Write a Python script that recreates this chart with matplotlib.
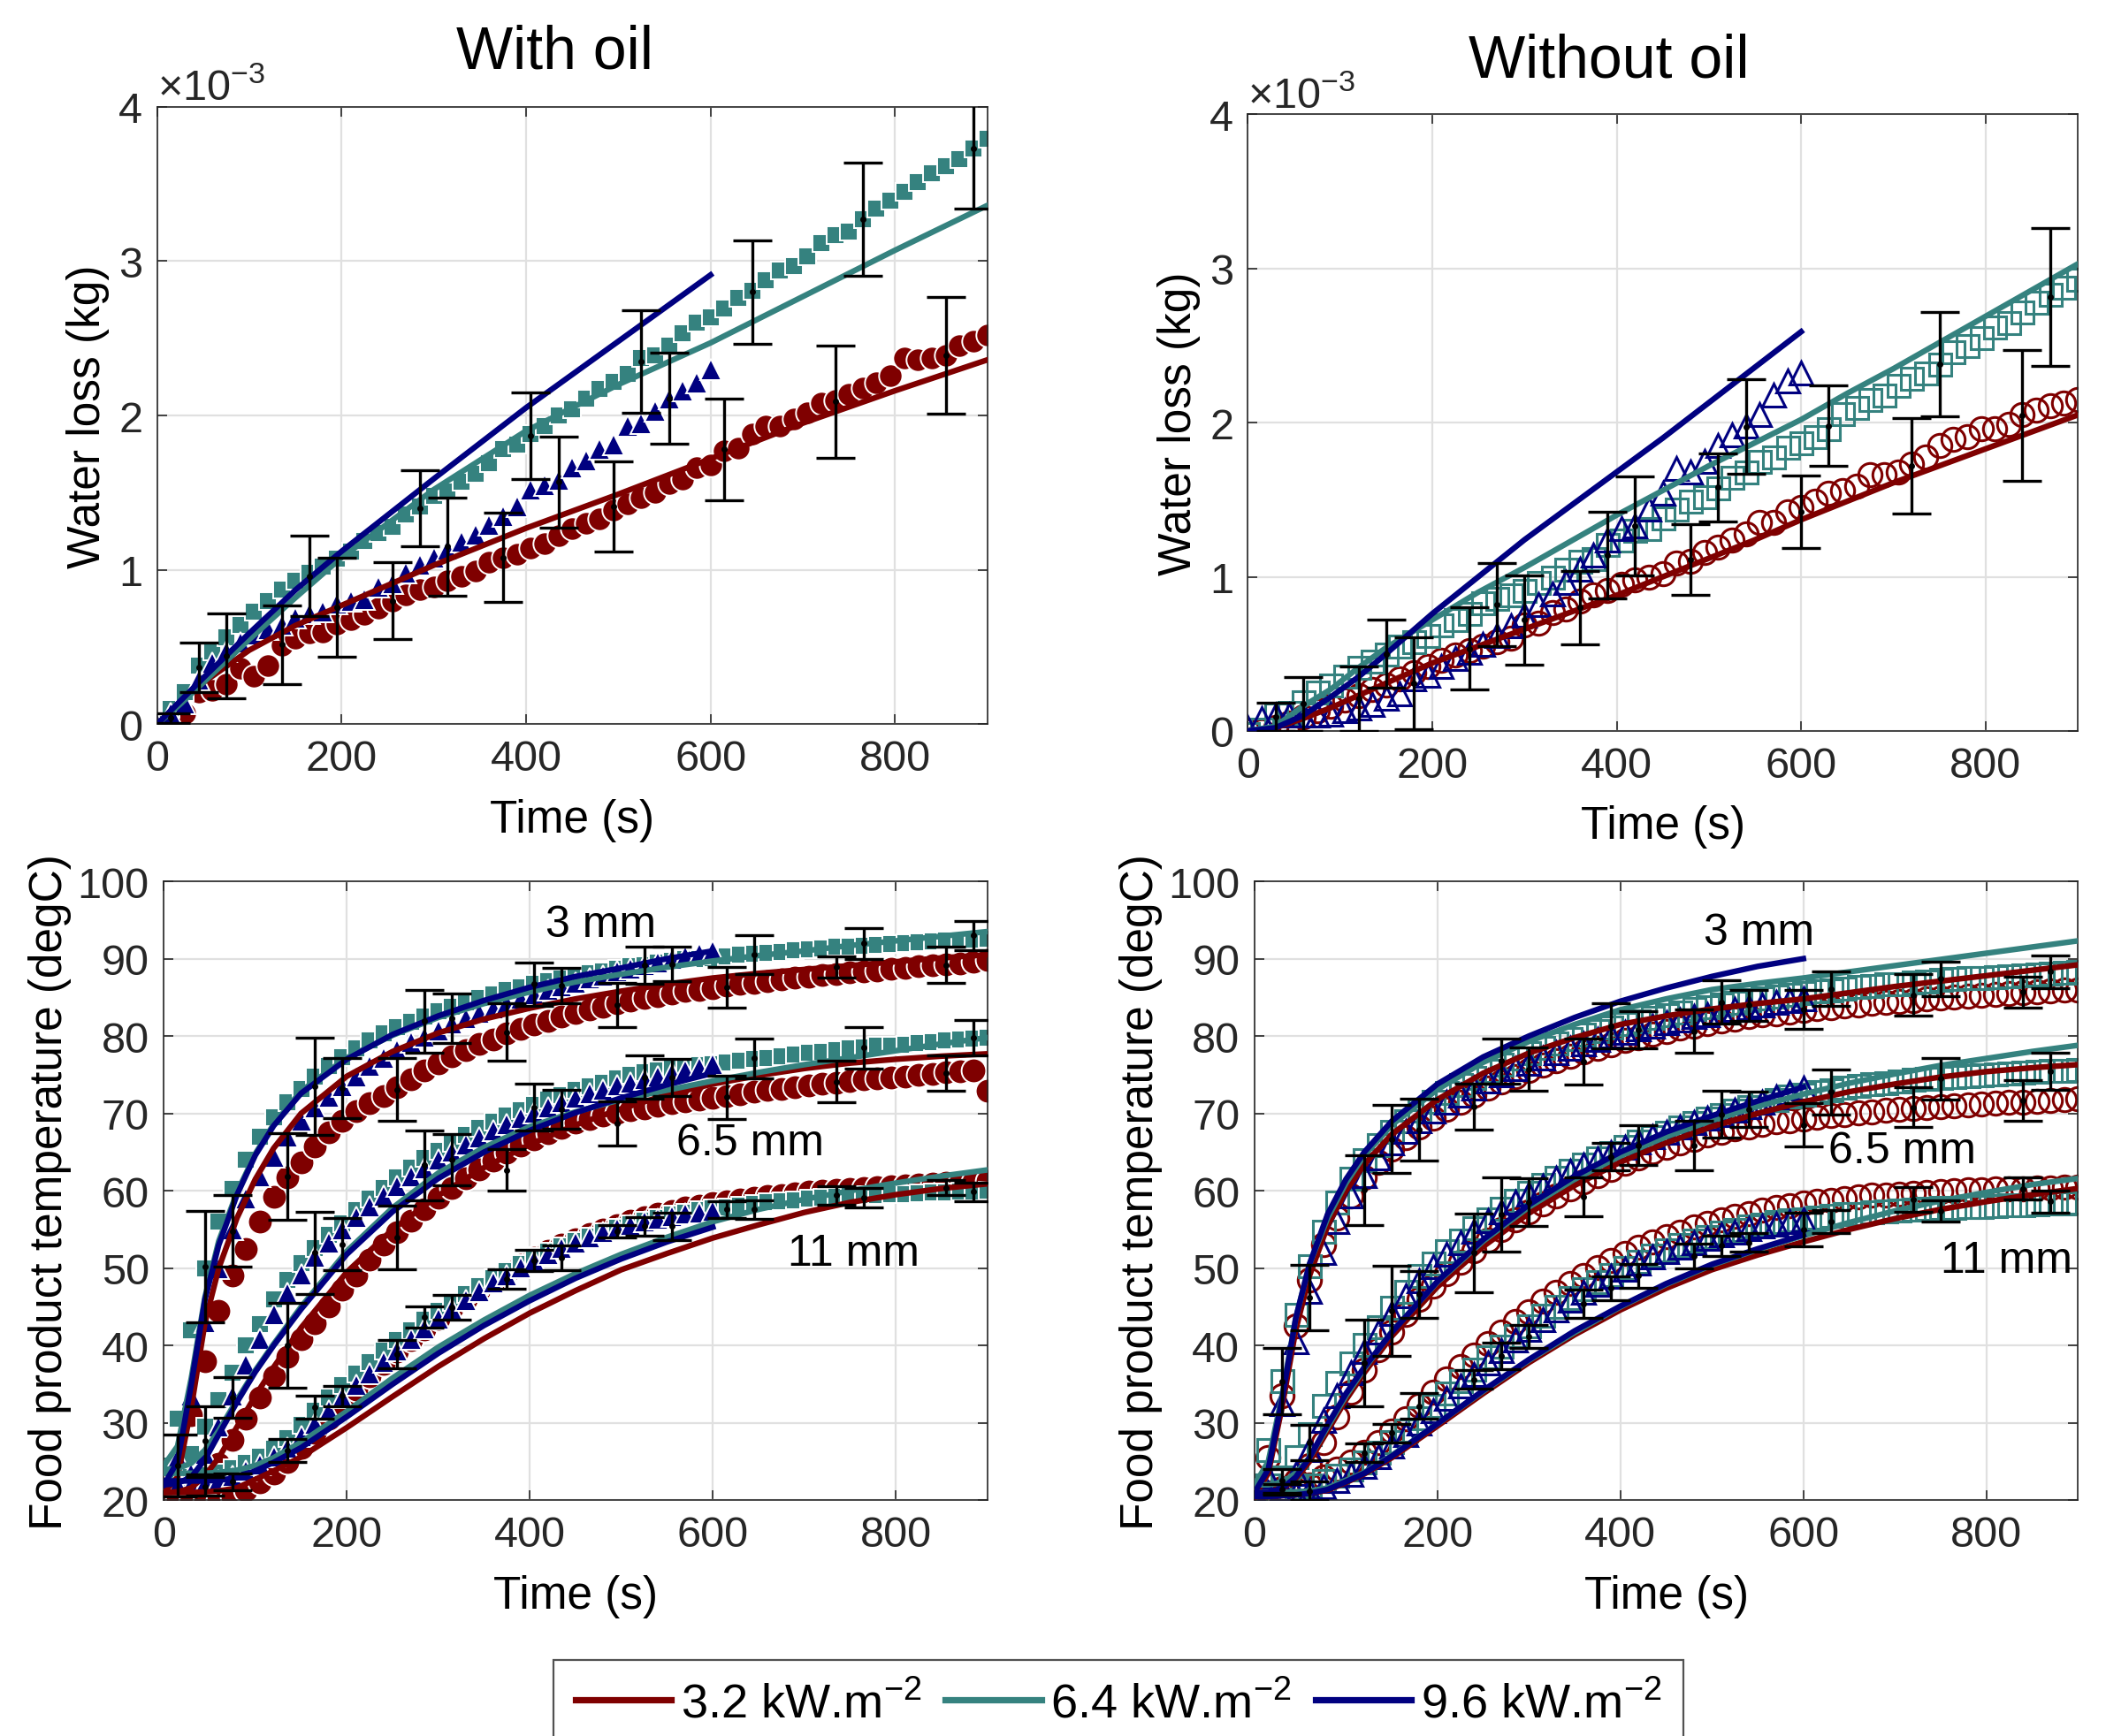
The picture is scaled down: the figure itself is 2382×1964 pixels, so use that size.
import matplotlib
matplotlib.use("Agg")
import matplotlib.pyplot as plt
import numpy as np
from matplotlib.lines import Line2D

plt.rcParams['font.family'] = ['Liberation Sans', 'DejaVu Sans']
plt.rcParams['mathtext.fontset'] = 'custom'
plt.rcParams['mathtext.rm'] = 'Liberation Sans'
plt.rcParams['mathtext.it'] = 'Liberation Sans'

RED = '#7f0000'
TEAL = '#35827f'
BLUE = '#000080'

flux_labels = ['3.2 kW.m$^{-2}$', '6.4 kW.m$^{-2}$', '9.6 kW.m$^{-2}$']
dt = 15  # sampling step of the measured points (s)

# ---------------- water loss, with oil (units of 1e-3 kg) ----------------
wo_red = [0.0, 0.03, 0.07, 0.21, 0.22, 0.26, 0.36, 0.31, 0.38, 0.51,
          0.56, 0.59, 0.60, 0.65, 0.68, 0.71, 0.75, 0.80, 0.84, 0.875,
          0.89, 0.93, 0.96, 0.99, 1.05, 1.08, 1.10, 1.14, 1.17, 1.22,
          1.27, 1.30, 1.33, 1.39, 1.43, 1.47, 1.50, 1.56, 1.59, 1.66,
          1.68, 1.77, 1.79, 1.88, 1.93, 1.93, 1.98, 2.02, 2.08, 2.10,
          2.14, 2.18, 2.21, 2.26, 2.375, 2.36, 2.37, 2.39, 2.45, 2.48, 2.52]
wo_teal = [0.0, 0.10, 0.21, 0.38, 0.47, 0.565, 0.645, 0.73, 0.80, 0.87,
           0.93, 0.98, 1.02, 1.07, 1.12, 1.19, 1.24, 1.28, 1.36, 1.41,
           1.48, 1.51, 1.57, 1.62, 1.69, 1.78, 1.81, 1.88, 1.93, 2.00,
           2.04, 2.11, 2.17, 2.22, 2.27, 2.37, 2.39, 2.45, 2.53, 2.60,
           2.635, 2.69, 2.76, 2.81, 2.875, 2.94, 2.97, 3.03, 3.115, 3.17,
           3.19, 3.27, 3.34, 3.39, 3.45, 3.51, 3.57, 3.615, 3.66, 3.73, 3.79]
wo_blue = [0.0, 0.07, 0.135, 0.29, 0.40, 0.47, 0.53, 0.58, 0.615, 0.645,
           0.69, 0.72, 0.73, 0.78, 0.80, 0.81, 0.89, 0.91, 0.98, 1.03,
           1.08, 1.13, 1.18, 1.23, 1.29, 1.35, 1.41, 1.52, 1.55, 1.585,
           1.665, 1.71, 1.78, 1.81, 1.93, 1.95, 2.03, 2.11, 2.16, 2.21, 2.30]
wo_line_t = [0, 25, 50, 100, 150, 200, 300, 400, 500, 600, 700, 800, 900]
wo_line_red = [0, 0.14, 0.27, 0.48, 0.64, 0.77, 1.03, 1.27, 1.49, 1.72, 1.95, 2.16, 2.36]
wo_line_teal = [0, 0.13, 0.27, 0.55, 0.82, 1.08, 1.52, 1.90, 2.20, 2.47, 2.77, 3.07, 3.36]
wo_line_blue = [0, 0.15, 0.30, 0.59, 0.87, 1.12, 1.59, 2.05, 2.48, 2.91]
wo_bar_t = [15, 45, 75, 135, 165, 195, 255, 285, 315, 375, 405, 435, 495, 525, 555,
            615, 645, 735, 765, 855, 885]
wo_bar_mean = [0.04, 0.37, 0.445, 0.515, 0.96, 0.76, 0.80, 1.40, 1.15, 1.08, 1.87, 1.57,
               1.41, 2.35, 2.11, 1.78, 2.80, 2.09, 3.27, 2.39, 3.73]
wo_bar_err = [0.03, 0.16, 0.275, 0.255, 0.26, 0.32, 0.25, 0.245, 0.315, 0.29, 0.28, 0.295,
              0.29, 0.33, 0.295, 0.33, 0.335, 0.365, 0.365, 0.38, 0.39]

# ---------------- water loss, without oil (units of 1e-3 kg) ----------------
no_red = [0.0, 0.0, 0.02, 0.05, 0.09, 0.13, 0.16, 0.20, 0.23, 0.27,
          0.30, 0.34, 0.38, 0.42, 0.46, 0.49, 0.52, 0.55, 0.58, 0.60,
          0.69, 0.70, 0.77, 0.79, 0.84, 0.88, 0.91, 0.95, 0.98, 1.00,
          1.02, 1.09, 1.10, 1.16, 1.19, 1.24, 1.28, 1.35, 1.35, 1.42,
          1.45, 1.49, 1.54, 1.56, 1.59, 1.66, 1.66, 1.68, 1.73, 1.78,
          1.85, 1.89, 1.91, 1.96, 1.96, 1.99, 2.05, 2.08, 2.11, 2.13, 2.15]
no_teal = [-0.02, 0.01, 0.11, 0.12, 0.19, 0.25, 0.30, 0.355, 0.41, 0.45,
           0.50, 0.55, 0.58, 0.62, 0.69, 0.72, 0.76, 0.83, 0.86, 0.88,
           0.91, 0.965, 1.00, 1.05, 1.10, 1.12, 1.21, 1.24, 1.30, 1.31,
           1.38, 1.44, 1.49, 1.52, 1.575, 1.645, 1.68, 1.75, 1.78, 1.84,
           1.87, 1.91, 1.96, 2.06, 2.10, 2.15, 2.18, 2.24, 2.29, 2.32,
           2.38, 2.46, 2.50, 2.55, 2.62, 2.65, 2.72, 2.78, 2.83, 2.88, 2.93]
no_blue = [0.02, 0.08, 0.105, 0.105, 0.10, 0.10, 0.11, 0.13, 0.15, 0.17,
           0.21, 0.24, 0.335, 0.36, 0.42, 0.47, 0.51, 0.56, 0.62, 0.68,
           0.75, 0.82, 0.89, 0.96, 1.05, 1.14, 1.24, 1.31, 1.33, 1.44,
           1.54, 1.70, 1.68, 1.75, 1.85, 1.92, 1.98, 2.05, 2.18, 2.27, 2.32]
no_line_t = [0, 30, 60, 90, 120, 150, 200, 250, 300, 350, 400, 450, 500, 550, 600,
             650, 700, 750, 800, 850, 900]
no_line_red = [0, 0.02, 0.08, 0.15, 0.23, 0.31, 0.44, 0.55, 0.66, 0.77, 0.88, 1.00,
               1.12, 1.24, 1.37, 1.49, 1.61, 1.72, 1.83, 1.94, 2.05]
no_line_teal = [0, 0.03, 0.16, 0.27, 0.41, 0.54, 0.72, 0.90, 1.06, 1.23, 1.40, 1.56,
                1.72, 1.87, 2.02, 2.19, 2.35, 2.52, 2.69, 2.86, 3.03]
no_line_blue = [0, 0.02, 0.10, 0.22, 0.35, 0.50, 0.76, 1.00, 1.24, 1.46, 1.68, 1.90,
                2.13, 2.36, 2.59]
no_bar_t = [30, 60, 120, 150, 180, 240, 270, 300, 360, 390, 420, 480, 510, 540, 600,
            630, 720, 750, 840, 870]
no_bar_mean = [0.09, 0.175, 0.21, 0.50, 0.31, 0.535, 0.82, 0.72, 0.80, 1.14, 1.33, 1.11,
               1.58, 1.975, 1.42, 1.98, 1.72, 2.38, 2.045, 2.815]
no_bar_err = [0.09, 0.175, 0.21, 0.22, 0.30, 0.265, 0.27, 0.29, 0.24, 0.28, 0.32, 0.23,
              0.22, 0.305, 0.235, 0.26, 0.31, 0.34, 0.425, 0.445]

# ---------------- temperature, with oil (degC) ----------------
to_red_3 = [20.8, 23.5, 31.0, 38.0, 44.5, 49.0, 52.5, 56.0, 59.2, 61.7,
            63.7, 65.7, 67.6, 69.1, 70.3, 71.3, 72.3, 73.4, 74.4, 75.5,
            76.5, 77.4, 78.2, 79.0, 79.6, 80.3, 80.9, 81.5, 82.0, 82.5,
            83.0, 83.4, 83.8, 84.2, 84.6, 84.9, 85.2, 85.5, 85.8, 86.0,
            86.2, 86.5, 86.7, 86.9, 87.1, 87.3, 87.5, 87.7, 87.9, 88.0,
            88.2, 88.4, 88.5, 88.7, 88.8, 89.0, 89.1, 89.3, 89.4, 89.6, 89.8]
to_teal_3 = [24.5, 30.5, 42.0, 50.0, 56.0, 60.3, 64.0, 67.0, 69.5, 71.5,
             73.2, 74.8, 76.1, 77.3, 78.4, 79.4, 80.3, 81.1, 81.8, 82.5,
             83.2, 83.8, 84.4, 84.9, 85.4, 85.9, 86.3, 86.7, 87.1, 87.4,
             87.8, 88.1, 88.4, 88.7, 89.0, 89.2, 89.5, 89.7, 89.9, 90.0,
             90.1, 90.3, 90.5, 90.6, 90.8, 90.9, 91.1, 91.2, 91.3, 91.5,
             91.6, 91.7, 91.8, 91.9, 92.0, 92.1, 92.2, 92.3, 92.4, 92.5, 92.6]
to_blue_3 = [22.0, 25.5, 33.5, 43.0, 50.0, 55.0, 59.0, 61.8, 64.4, 67.0,
             69.0, 70.8, 72.1, 73.5, 74.8, 76.1, 77.2, 78.2, 79.2, 79.9,
             80.7, 81.6, 82.3, 83.0, 83.6, 84.2, 84.8, 85.4, 85.9, 86.4,
             86.9, 87.4, 87.8, 88.3, 88.7, 89.1, 89.5, 89.9, 90.3, 90.6, 91.0]
to_red_65 = [21.0, 21.5, 22.0, 23.0, 24.7, 27.8, 30.6, 33.3, 36.0, 38.5,
             40.8, 42.9, 45.0, 47.2, 49.1, 51.1, 53.0, 54.6, 56.1, 57.6,
             59.1, 60.4, 61.6, 62.8, 63.9, 64.9, 65.8, 66.6, 67.4, 68.1,
             68.8, 69.3, 69.7, 70.1, 70.4, 70.7, 71.0, 71.3, 71.6, 71.8,
             72.0, 72.3, 72.5, 72.8, 73.0, 73.2, 73.4, 73.6, 73.8, 74.0,
             74.2, 74.4, 74.5, 74.7, 74.8, 75.0, 75.1, 75.3, 75.4, 75.6, 72.9]
to_teal_65 = [24.0, 24.5, 26.0, 29.5, 33.0, 36.5, 40.0, 42.8, 46.0, 48.5,
              50.6, 52.6, 54.3, 55.8, 57.5, 59.0, 60.4, 61.7, 63.0, 64.2,
              65.2, 66.2, 67.2, 68.1, 68.9, 69.7, 70.4, 71.1, 71.8, 72.4,
              73.0, 73.5, 74.0, 74.5, 75.0, 75.3, 75.6, 75.8, 76.0, 76.2,
              76.4, 76.6, 76.8, 77.0, 77.2, 77.4, 77.6, 77.8, 78.0, 78.2,
              78.4, 78.5, 78.7, 78.8, 78.9, 79.1, 79.2, 79.4, 79.5, 79.7, 79.8]
to_blue_65 = [22.0, 22.5, 23.5, 26.0, 29.5, 33.5, 37.5, 40.8, 44.0, 46.8,
              49.2, 51.4, 53.3, 55.0, 56.6, 58.0, 59.3, 60.6, 61.8, 62.9,
              64.0, 65.0, 66.0, 66.9, 67.8, 68.6, 69.4, 70.1, 70.8, 71.4,
              72.0, 72.6, 73.1, 73.6, 74.0, 74.4, 74.8, 75.2, 75.6, 75.9, 76.3]
to_red_11 = [20.5, 20.0, 19.8, 19.8, 20.0, 20.5, 21.3, 22.3, 23.5, 25.0,
             26.8, 28.7, 30.6, 32.5, 34.3, 36.0, 37.6, 39.2, 40.7, 42.1,
             43.5, 44.8, 46.0, 47.2, 48.3, 49.4, 50.4, 51.3, 52.2, 53.0,
             53.7, 54.4, 55.0, 55.6, 56.1, 56.6, 57.0, 57.4, 57.8, 58.1,
             58.4, 58.7, 58.9, 59.1, 59.3, 59.5, 59.7, 59.9, 60.0, 60.1,
             60.3, 60.4, 60.5, 60.6, 60.7, 60.8, 60.9, 61.0, 61.1, 61.2, 61.3]
to_teal_11 = [23.0, 23.0, 23.0, 23.2, 23.6, 24.2, 24.8, 25.6, 26.7, 28.0,
              29.8, 31.6, 33.3, 34.9, 36.4, 37.9, 39.3, 40.7, 42.0, 43.3,
              44.5, 45.6, 46.7, 47.7, 48.7, 49.6, 50.5, 51.4, 52.1, 52.8,
              53.5, 54.1, 54.7, 55.2, 55.7, 56.1, 56.5, 56.9, 57.2, 57.5,
              57.7, 57.9, 58.1, 58.3, 58.5, 58.7, 58.8, 59.0, 59.1, 59.2,
              59.3, 59.4, 59.5, 59.6, 59.6, 59.7, 59.8, 59.8, 59.9, 59.9, 60.0]
to_blue_11 = [22.0, 22.0, 22.0, 22.2, 22.6, 23.1, 23.8, 24.6, 25.6, 26.8,
              28.3, 29.9, 31.6, 33.3, 34.9, 36.4, 37.9, 39.4, 40.8, 42.2,
              43.5, 44.7, 45.9, 47.0, 48.1, 49.1, 50.1, 51.0, 51.8, 52.6,
              53.3, 54.0, 54.6, 55.1, 55.6, 56.0, 56.4, 56.7, 57.0, 57.2, 57.4]

# model curves (shared time axis; 9.6 kW curves stop at 600 s)
line_t = [0, 15, 30, 45, 60, 80, 100, 120, 150, 200, 250, 300, 350, 400, 450, 500,
          550, 600, 650, 700, 750, 800, 850, 900]
to_line_teal_3 = [24.5, 27.0, 35.8, 46.3, 53.5, 59.8, 64.8, 68.6, 72.9, 77.2, 80.1, 82.4,
                  84.2, 85.7, 87.0, 88.0, 88.9, 89.7, 90.4, 91.0, 91.7, 92.3, 92.9, 93.5]
to_line_blue_3 = [22.0, 25.0, 35.0, 46.0, 53.0, 59.5, 64.6, 68.4, 72.6, 77.0, 80.2, 82.6,
                  84.6, 86.3, 87.7, 88.8, 90.0, 91.0]
to_line_red_3 = [21.0, 23.0, 32.0, 43.0, 50.0, 56.5, 61.5, 65.5, 70.0, 74.8, 78.0, 80.4,
                 82.2, 83.6, 84.8, 85.8, 86.7, 87.5, 88.1, 88.6, 89.1, 89.6, 90.1, 90.5]
to_line_teal_65 = [24.0, 24.1, 24.8, 26.5, 29.0, 33.0, 36.8, 40.2, 45.0, 52.2, 57.8, 62.3,
                   65.6, 68.3, 70.2, 71.8, 73.0, 74.2, 75.3, 76.3, 77.2, 78.1, 79.0, 79.8]
to_line_blue_65 = [22.0, 22.2, 23.0, 25.3, 28.5, 32.7, 36.6, 40.0, 44.7, 51.8, 57.3, 61.6,
                   65.0, 67.8, 70.1, 72.0, 73.7, 75.2]
to_line_red_65 = [21.0, 21.1, 21.6, 23.2, 25.5, 29.5, 33.5, 37.2, 42.3, 49.5, 55.0, 59.4,
                  63.0, 66.0, 68.5, 70.6, 72.4, 73.8, 74.9, 75.8, 76.5, 77.0, 77.4, 77.7]
to_line_teal_11 = [23.5, 23.5, 23.5, 23.5, 23.6, 23.9, 24.5, 25.5, 27.5, 31.5, 35.8, 39.8,
                   43.3, 46.5, 49.3, 51.8, 54.0, 56.0, 57.6, 58.9, 60.0, 61.0, 61.9, 62.7]
to_line_blue_11 = [22.5, 22.5, 22.5, 22.5, 22.6, 22.9, 23.8, 24.9, 26.8, 30.8, 35.0, 39.0,
                   42.6, 45.8, 48.7, 51.2, 53.4, 55.3]
to_line_red_11 = [21.0, 21.0, 21.0, 21.1, 21.2, 21.6, 22.7, 23.8, 25.6, 29.4, 33.4, 37.3,
                  40.9, 44.2, 47.1, 49.8, 51.9, 53.9, 55.6, 57.2, 58.5, 59.5, 60.3, 60.9]

to_bar_t = [15, 45, 75, 135, 165, 195, 255, 285, 315, 375, 405, 435, 495, 525, 555, 615,
            645, 735, 765, 855, 885,
            45, 75, 135, 165, 195, 255, 285, 315, 375, 405, 435, 495, 525, 555, 615,
            645, 735, 765, 855, 885,
            45, 75, 135, 165, 195, 255, 285, 315, 375, 405, 435, 495, 525, 555, 615,
            645, 735, 765, 855, 885]
to_bar_mean = [24.5, 50.2, 54.8, 61.9, 73.5, 73.3, 73.1, 81.9, 82.3, 80.5, 86.7, 86.5,
               84.0, 89.1, 89.3, 86.3, 90.5, 88.9, 92.0, 89.2, 93.0,
               27.7, 33.3, 40.0, 52.0, 53.1, 54.0, 63.3, 64.0, 62.7, 70.8, 70.5, 68.7,
               74.7, 74.6, 72.1, 77.1, 74.1, 78.5, 75.2, 79.8,
               21.8, 22.4, 26.4, 32.0, 33.5, 38.9, 43.7, 44.9, 48.6, 51.0, 51.3, 54.8,
               55.4, 55.4, 57.6, 57.6, 59.4, 59.1, 60.4, 59.9]
to_bar_err = [4.0, 7.2, 4.6, 5.6, 6.3, 3.9, 4.0, 4.1, 3.2, 3.7, 2.8, 2.3, 2.9, 2.4, 2.2,
              2.6, 2.5, 1.4, 2.0, 2.3, 1.9,
              4.4, 2.6, 5.5, 5.3, 3.4, 4.1, 4.5, 3.3, 2.7, 3.0, 2.5, 2.9, 2.8, 2.4, 2.8,
              2.6, 2.7, 2.7, 2.3, 2.3,
              1.2, 1.1, 1.5, 1.5, 1.3, 1.8, 1.4, 1.6, 1.3, 1.4, 1.6, 0.8, 1.2, 1.8, 1.1,
              1.2, 1.2, 1.3, 1.0, 1.2]

# ---------------- temperature, without oil (degC) ----------------
tn_red_3 = [20.5, 25.5, 33.5, 42.5, 48.5, 53.0, 56.5, 59.3, 61.7, 63.7,
            65.4, 66.9, 68.2, 69.4, 70.5, 71.5, 72.4, 73.3, 74.1, 74.8,
            75.5, 76.2, 76.8, 77.4, 77.9, 78.4, 78.9, 79.4, 79.8, 80.2,
            80.6, 81.0, 81.3, 81.6, 81.9, 82.2, 82.5, 82.7, 82.9, 83.1,
            83.3, 83.5, 83.7, 83.9, 84.0, 84.2, 84.3, 84.5, 84.6, 84.8,
            84.9, 85.0, 85.2, 85.3, 85.4, 85.5, 85.6, 85.7, 85.8, 85.9, 86.0]
tn_teal_3 = [21.8, 26.5, 35.5, 44.0, 50.3, 54.8, 58.5, 61.6, 64.0, 66.0,
             67.7, 69.1, 70.4, 71.6, 72.7, 73.7, 74.6, 75.5, 76.3, 77.1,
             77.8, 78.5, 79.1, 79.7, 80.2, 80.7, 81.2, 81.6, 82.0, 82.4,
             82.8, 83.1, 83.5, 83.8, 84.1, 84.4, 84.7, 84.9, 85.2, 85.4,
             85.6, 85.8, 86.0, 86.2, 86.4, 86.5, 86.7, 86.8, 87.0, 87.1,
             87.3, 87.4, 87.5, 87.6, 87.7, 87.8, 87.9, 88.0, 88.1, 88.2, 88.3]
tn_blue_3 = [21.0, 23.0, 32.5, 40.5, 47.0, 52.0, 56.0, 59.3, 62.0, 64.3,
             66.2, 67.7, 69.0, 70.3, 71.4, 72.4, 73.3, 74.2, 75.0, 75.8,
             76.5, 77.2, 77.8, 78.4, 79.0, 79.5, 80.0, 80.5, 80.9, 81.3,
             81.7, 82.1, 82.5, 82.8, 83.1, 83.4, 83.7, 84.0, 84.3, 84.6, 84.8]
tn_red_65 = [21.0, 21.0, 21.5, 22.5, 24.5, 27.5, 30.8, 34.0, 36.8, 39.5,
             41.8, 44.0, 46.0, 47.7, 49.3, 50.8, 52.2, 53.6, 55.0, 56.2,
             57.3, 58.3, 59.3, 60.3, 61.2, 62.0, 62.8, 63.6, 64.3, 65.0,
             65.6, 66.2, 66.7, 67.2, 67.6, 68.0, 68.3, 68.6, 68.9, 69.1,
             69.3, 69.5, 69.7, 69.9, 70.1, 70.2, 70.4, 70.5, 70.7, 70.8,
             70.9, 71.0, 71.1, 71.2, 71.3, 71.4, 71.5, 71.6, 71.7, 71.8, 71.9]
tn_teal_65 = [22.0, 22.0, 23.0, 25.6, 28.6, 32.3, 35.2, 37.8, 40.1, 42.4,
              44.9, 47.0, 49.0, 50.6, 52.2, 53.6, 55.2, 56.4, 57.7, 58.8,
              59.8, 60.8, 61.7, 62.6, 63.4, 64.2, 64.9, 65.7, 66.4, 67.0,
              67.6, 68.2, 68.8, 69.4, 69.9, 70.4, 70.9, 71.4, 71.8, 72.2,
              72.5, 72.8, 73.1, 73.4, 73.6, 73.8, 74.0, 74.2, 74.4, 74.5,
              74.7, 74.8, 74.9, 75.0, 75.1, 75.2, 75.3, 75.4, 75.5, 75.6, 75.7]
tn_blue_65 = [21.0, 21.0, 21.5, 23.5, 26.5, 30.3, 33.5, 36.5, 39.2, 41.7,
              44.2, 46.4, 48.4, 50.2, 51.8, 53.3, 54.8, 56.1, 57.3, 58.5,
              59.6, 60.6, 61.6, 62.5, 63.3, 64.1, 64.9, 65.6, 66.3, 67.0,
              67.6, 68.2, 68.8, 69.4, 69.9, 70.4, 70.9, 71.5, 72.1, 72.7, 73.3]
tn_red_11 = [20.5, 20.5, 20.8, 21.3, 22.0, 23.0, 24.0, 25.0, 26.2, 27.5,
             29.0, 30.6, 32.3, 34.0, 35.7, 37.3, 38.8, 40.3, 41.7, 43.1,
             44.4, 45.7, 46.9, 48.0, 49.1, 50.1, 51.0, 51.9, 52.7, 53.4,
             54.1, 54.7, 55.3, 55.8, 56.3, 56.7, 57.1, 57.5, 57.8, 58.1,
             58.4, 58.6, 58.8, 59.0, 59.2, 59.4, 59.5, 59.6, 59.7, 59.8,
             59.9, 60.0, 60.1, 60.1, 60.2, 60.3, 60.3, 60.4, 60.4, 60.5, 60.5]
tn_teal_11 = [21.0, 21.0, 21.2, 21.6, 22.0, 22.5, 23.2, 24.0, 25.0, 26.2,
              27.6, 29.1, 30.7, 32.3, 33.9, 35.5, 37.0, 38.5, 39.9, 41.3,
              42.6, 43.9, 45.1, 46.2, 47.3, 48.3, 49.2, 50.1, 50.9, 51.7,
              52.4, 53.0, 53.6, 54.1, 54.6, 55.0, 55.4, 55.7, 56.0, 56.2,
              56.4, 56.6, 56.8, 57.0, 57.1, 57.3, 57.4, 57.5, 57.6, 57.7,
              57.8, 57.9, 58.0, 58.0, 58.1, 58.2, 58.2, 58.3, 58.4, 58.4, 58.5]
tn_blue_11 = [20.5, 20.5, 20.5, 20.8, 21.2, 21.8, 22.5, 23.4, 24.4, 25.6,
              27.0, 28.5, 30.0, 31.6, 33.2, 34.8, 36.3, 37.8, 39.3, 40.7,
              42.1, 43.4, 44.6, 45.8, 46.9, 47.9, 48.9, 49.8, 50.6, 51.4,
              52.1, 52.7, 53.3, 53.8, 54.3, 54.7, 55.1, 55.4, 55.7, 56.0, 56.2]

tn_line_teal_3 = [22.0, 25.0, 33.5, 43.5, 50.5, 56.5, 61.0, 64.6, 68.5, 73.1, 76.6, 79.3,
                  81.5, 83.4, 84.8, 86.0, 86.8, 87.5, 88.3, 89.1, 89.9, 90.7, 91.5, 92.3]
tn_line_blue_3 = [21.0, 24.0, 33.0, 43.5, 50.5, 57.0, 61.5, 65.0, 69.0, 73.8, 77.3, 80.0,
                  82.4, 84.5, 86.2, 87.7, 89.0, 90.0]
tn_line_red_3 = [20.5, 23.5, 32.0, 42.0, 49.0, 55.5, 60.0, 63.4, 67.3, 71.8, 75.2, 77.8,
                 79.8, 81.5, 82.6, 83.5, 84.2, 84.8, 85.6, 86.4, 87.1, 87.8, 88.5, 89.2]
tn_line_teal_65 = [22.0, 22.0, 22.3, 23.5, 25.5, 29.5, 33.5, 37.0, 41.8, 48.2, 53.5, 57.9,
                   61.5, 64.5, 67.0, 69.1, 70.9, 72.5, 73.9, 75.1, 76.2, 77.1, 78.0, 78.8]
tn_line_blue_65 = [21.0, 21.0, 21.5, 23.0, 25.5, 29.8, 33.8, 37.2, 41.7, 48.3, 53.7, 58.2,
                   61.9, 65.0, 67.6, 69.7, 71.6, 73.4]
tn_line_red_65 = [21.0, 21.0, 21.4, 22.8, 25.0, 29.0, 33.0, 36.5, 41.2, 47.6, 52.8, 57.1,
                  60.7, 63.7, 66.2, 68.3, 70.0, 71.5, 72.8, 73.8, 74.7, 75.4, 75.9, 76.3]
tn_line_teal_11 = [21.0, 21.0, 21.0, 21.1, 21.2, 21.6, 22.6, 23.6, 25.8, 29.9, 34.1, 38.1,
                   41.7, 45.0, 47.9, 50.4, 52.4, 54.2, 55.9, 57.4, 58.7, 59.8, 60.8, 61.6]
tn_line_blue_11 = [20.5, 20.5, 20.6, 20.7, 20.9, 21.4, 22.4, 23.5, 25.7, 29.9, 34.2, 38.2,
                   41.9, 45.1, 48.0, 50.5, 52.5, 54.3]
tn_line_red_11 = [20.5, 20.5, 20.6, 20.7, 20.9, 21.3, 22.3, 23.4, 25.5, 29.6, 33.8, 37.8,
                  41.4, 44.6, 47.4, 49.8, 51.7, 53.4, 55.0, 56.4, 57.6, 58.6, 59.5, 60.3]

tn_bar_t = [30, 60, 120, 150, 180, 240, 270, 300, 360, 390, 420, 480, 510, 540, 600, 630,
            720, 750, 840, 870] * 3
tn_bar_mean = [35.4, 46.2, 60.1, 66.7, 67.9, 70.9, 76.8, 75.7, 76.7, 81.3, 80.8, 80.6,
               84.4, 84.0, 83.4, 86.1, 85.3, 87.4, 85.7, 88.3,
               22.5, 27.5, 37.7, 44.5, 46.6, 52.0, 56.9, 58.5, 59.2, 64.4, 65.9, 65.8,
               69.9, 70.5, 68.5, 72.8, 70.8, 74.5, 71.7, 75.4,
               21.4, 21.2, 26.1, 28.7, 32.2, 35.6, 38.7, 41.2, 45.4, 47.4, 49.0, 51.6,
               52.9, 53.3, 55.0, 56.0, 58.9, 57.4, 60.3, 58.6]
tn_bar_err = [4.3, 4.2, 4.5, 4.4, 4.0, 3.0, 2.9, 2.8, 3.0, 2.9, 2.4, 2.8, 2.8, 2.0, 2.5,
              2.2, 2.7, 2.2, 2.0, 2.1,
              1.5, 2.3, 5.6, 5.8, 3.0, 5.1, 4.8, 3.1, 2.5, 1.8, 2.6, 3.2, 3.0, 2.3, 2.8,
              2.9, 2.6, 2.7, 2.6, 2.4,
              0.7, 1.2, 1.2, 1.2, 1.7, 1.2, 1.7, 1.5, 1.8, 1.5, 1.5, 1.6, 1.3, 1.2, 2.2,
              1.5, 1.6, 1.4, 1.4, 1.4]

TICK_FS = 17.5
LABEL_FS = 18.5


def mtime(vals):
    return dt * np.arange(len(vals))


def draw_markers(ax, vals, color, marker, ms, filled, scale=1.0):
    y = np.array(vals) * scale
    if filled:
        ax.plot(mtime(vals), y, ls='none', marker=marker, ms=ms, mfc=color,
                mec='white', mew=0.7, zorder=2)
    else:
        ax.plot(mtime(vals), y, ls='none', marker=marker, ms=ms, mfc='none',
                mec=color, mew=1.1, zorder=2)


def draw_line(ax, tt, vals, color, scale=1.0):
    ax.plot(tt[:len(vals)], np.array(vals) * scale, color=color, lw=2.3, zorder=3)


def draw_bars(ax, bt, bm, be, scale=1.0):
    ax.errorbar(bt, np.array(bm) * scale, yerr=np.array(be) * scale, fmt='.', color='k',
                ms=3, elinewidth=1.2, capsize=8, capthick=1.2, zorder=4)


def style(ax, ylim, yticks):
    ax.set_xlim(0, 900)
    ax.set_xticks([0, 200, 400, 600, 800])
    ax.set_ylim(*ylim)
    ax.set_yticks(yticks)
    ax.grid(True, color='#e0e0e0', lw=0.8)
    ax.set_axisbelow(True)
    ax.tick_params(direction='in', top=True, right=True, length=4, width=0.6,
                   labelsize=TICK_FS, colors='#262626', pad=6)
    for s in ax.spines.values():
        s.set_color('#262626')
        s.set_linewidth(0.6)
    ax.set_xlabel('Time (s)', fontsize=LABEL_FS)
    ax.xaxis.label.set_verticalalignment('center')
    ax.yaxis.label.set_verticalalignment('center')
    ax.xaxis.set_label_coords(0.5, -0.155)


fig = plt.figure(figsize=(11.91, 9.825), dpi=200)
ax_wo = fig.add_axes([0.0746, 0.5825, 0.3942, 0.3556])
ax_no = fig.add_axes([0.5925, 0.5787, 0.3941, 0.3549])
ax_to = fig.add_axes([0.0778, 0.1357, 0.3910, 0.3564])
ax_tn = fig.add_axes([0.5957, 0.1357, 0.3909, 0.3564])

k = 1e-3
# water loss with oil
draw_markers(ax_wo, wo_red, RED, 'o', 9.5, True, k)
draw_markers(ax_wo, wo_teal, TEAL, 's', 7.0, True, k)
draw_markers(ax_wo, wo_blue, BLUE, '^', 8.5, True, k)
draw_line(ax_wo, wo_line_t, wo_line_red, RED, k)
draw_line(ax_wo, wo_line_t, wo_line_teal, TEAL, k)
draw_line(ax_wo, wo_line_t, wo_line_blue, BLUE, k)
draw_bars(ax_wo, wo_bar_t, wo_bar_mean, wo_bar_err, k)

# water loss without oil
draw_markers(ax_no, no_red, RED, 'o', 9.5, False, k)
draw_markers(ax_no, no_teal, TEAL, 's', 9.0, False, k)
draw_markers(ax_no, no_blue, BLUE, '^', 9.5, False, k)
draw_line(ax_no, no_line_t, no_line_red, RED, k)
draw_line(ax_no, no_line_t, no_line_teal, TEAL, k)
draw_line(ax_no, no_line_t, no_line_blue, BLUE, k)
draw_bars(ax_no, no_bar_t, no_bar_mean, no_bar_err, k)

for ax in (ax_wo, ax_no):
    style(ax, (0, 4e-3), [0, 1e-3, 2e-3, 3e-3, 4e-3])
    ax.ticklabel_format(axis='y', style='sci', scilimits=(-3, -3), useMathText=True)
    ax.yaxis.get_offset_text().set_fontsize(17.5)
    ax.yaxis.get_offset_text().set_color('#262626')
    ax.set_ylabel('Water loss (kg)', fontsize=LABEL_FS)
    ax.yaxis.set_label_coords(-0.083, 0.5)

# temperature with oil
for vals, c, m, ms in [(to_red_3, RED, 'o', 10.0), (to_red_65, RED, 'o', 10.0), (to_red_11, RED, 'o', 10.0),
                       (to_teal_3, TEAL, 's', 7.0), (to_teal_65, TEAL, 's', 7.0), (to_teal_11, TEAL, 's', 7.0),
                       (to_blue_3, BLUE, '^', 8.5), (to_blue_65, BLUE, '^', 8.5), (to_blue_11, BLUE, '^', 8.5)]:
    draw_markers(ax_to, vals, c, m, ms, True)
for vals, c in [(to_line_red_3, RED), (to_line_red_65, RED), (to_line_red_11, RED),
                (to_line_teal_3, TEAL), (to_line_teal_65, TEAL), (to_line_teal_11, TEAL),
                (to_line_blue_3, BLUE), (to_line_blue_65, BLUE), (to_line_blue_11, BLUE)]:
    draw_line(ax_to, line_t, vals, c)
draw_bars(ax_to, to_bar_t, to_bar_mean, to_bar_err)

# temperature without oil
for vals, c, m, ms in [(tn_red_3, RED, 'o', 9.5), (tn_red_65, RED, 'o', 9.5), (tn_red_11, RED, 'o', 9.5),
                       (tn_teal_3, TEAL, 's', 9.0), (tn_teal_65, TEAL, 's', 9.0), (tn_teal_11, TEAL, 's', 9.0),
                       (tn_blue_3, BLUE, '^', 9.5), (tn_blue_65, BLUE, '^', 9.5), (tn_blue_11, BLUE, '^', 9.5)]:
    draw_markers(ax_tn, vals, c, m, ms, False)
for vals, c in [(tn_line_red_3, RED), (tn_line_red_65, RED), (tn_line_red_11, RED),
                (tn_line_teal_3, TEAL), (tn_line_teal_65, TEAL), (tn_line_teal_11, TEAL),
                (tn_line_blue_3, BLUE), (tn_line_blue_65, BLUE), (tn_line_blue_11, BLUE)]:
    draw_line(ax_tn, line_t, vals, c)
draw_bars(ax_tn, tn_bar_t, tn_bar_mean, tn_bar_err)

for ax in (ax_to, ax_tn):
    style(ax, (20, 100), range(20, 101, 10))
    ax.set_ylabel('Food product temperature (degC)', fontsize=LABEL_FS)
    ax.yaxis.set_label_coords(-0.138, 0.5)

ax_to.text(478, 94.4, '3 mm', fontsize=18, ha='center', va='center')
ax_to.text(641, 66.2, '6.5 mm', fontsize=18, ha='center', va='center')
ax_to.text(754, 51.9, '11 mm', fontsize=18, ha='center', va='center')
ax_tn.text(551, 93.4, '3 mm', fontsize=18, ha='center', va='center')
ax_tn.text(708, 65.2, '6.5 mm', fontsize=18, ha='center', va='center')
ax_tn.text(822, 51.0, '11 mm', fontsize=18, ha='center', va='center')

fig.text(627 / 2382, 1 - 60 / 1965, 'With oil', fontsize=24.5, ha='center', va='center')
fig.text(1820 / 2382, 1 - 69 / 1965, 'Without oil', fontsize=24.5, ha='center', va='center')

handles = [Line2D([], [], color=c, lw=2.6) for c in (RED, TEAL, BLUE)]
leg = fig.legend(handles, flux_labels, loc='upper center', bbox_to_anchor=(1265 / 2382, 1 - 1879 / 1965),
                 ncol=3, fontsize=19.5, frameon=True, fancybox=False, edgecolor='#262626',
                 handlelength=2.0, handletextpad=0.2, columnspacing=0.5, borderpad=0.45,
                 borderaxespad=0)
leg.get_frame().set_linewidth(0.8)

fig.savefig('out.png', dpi=200)
